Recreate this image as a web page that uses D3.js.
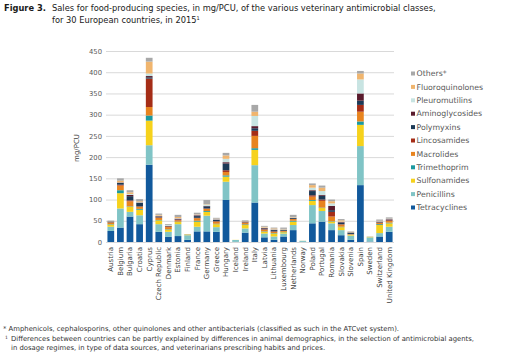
<!DOCTYPE html>
<html><head><meta charset="utf-8">
<script src="https://cdn.jsdelivr.net/npm/d3@7"></script>
<style>body{margin:0;background:#fff}svg{display:block}text{font-family:"DejaVu Sans",Verdana,sans-serif}</style>
</head><body>
<svg id="c" width="515" height="357"></svg>
<script>
const countries = ["Austria","Belgium","Bulgaria","Croatia","Cyprus","Czech Republic","Denmark","Estonia","Finland","France","Germany","Greece","Hungary","Iceland","Ireland","Italy","Latvia","Lithuania","Luxembourg","Netherlands","Norway","Poland","Portugal","Romania","Slovakia","Slovenia","Spain","Sweden","Switzerland","United Kingdom"];
const seriesNames = ["Tetracyclines","Penicillins","Sulfonamides","Trimethoprim","Macrolides","Lincosamides","Polymyxins","Aminoglycosides","Pleuromutilins","Fluoroquinolones","Others*"];
const colors = ["#11599c","#80c4c6","#f6d21c","#1b99a0","#e8841f","#a52d17","#1c3a57","#5a1b2d","#c8e4e2","#f0b56e","#a8a8a8"];
//                    Au  Be  Bu  Cr  Cy   Cz  De  Es  Fi   Fr  Ge  Gr  Hu  Ic   Ir  It  La  Li  Lu  Ne  No   Po  Pt  Ro  Sk  Sl   Sp  Sw   Sz  UK
const tetracyclines = [26, 34, 60, 42, 182, 24, 12, 14, 5,   25, 25, 24, 99, 0.2, 22, 93, 11, 5,  13, 28, 0.2, 44, 48, 28, 16, 5,  134, 1,   13, 24];
const penicillins   = [10, 45, 11, 21, 46,  18, 12, 28, 11,  11, 37, 11, 43, 4.5, 10, 88, 9,  8,  7,  12, 2.5, 43, 25, 16, 12, 10, 92,  10,  8,  12];
const sulfonamides  = [5,  36, 12, 13, 58,  9,  5,  5,  1.5, 12, 9,  7,  12, 0.3, 8,  36, 4,  7,  3,  8,  0.2, 10, 7,  4,  7,  2,  50,  1,   19, 8];
const trimethoprim  = [1,  7,  1,  2,  12,  1,  1,  1,  0.3, 2,  2,  1,  3,  0,   1.5,4,  1,  1,  1,  2,  0,   2,  1,  1,  1,  0.5,8,   0.2, 2,  1.5];
const macrolides    = [4,  11, 12, 5,  20,  5,  5,  3,  0.2, 6,  5,  5,  8,  0,   4,  29, 4,  3,  2,  4,  0,   8,  16, 11, 5,  1,  23,  0.2, 3,  4];
const lincosamides  = [0.5,2,  2,  1,  67,  1,  1.5,1,  0.1, 1,  1,  1,  4,  0,   0.5,12, 1,  1,  0.5,0.5,0,   3,  3,  11, 1,  0.5,16,  0.1, 1,  1.5];
const polymyxins    = [1.5,4,  10, 8,  3,   2,  0.5,1,  0,   4,  5,  3,  16, 0,   0.5,6,  2,  3,  2,  2,  0,   10, 9,  4,  4,  3,  10,  0,   1,  0.5];
const aminoglycosides=[0.5,1,  3,  1,  3,   1,  1,  2,  0,   2,  1,  1,  3,  0,   1.5,5,  1,  1,  0.5,0.5,0,   2,  2,  10, 1,  0.5,17,  0,   1,  2];
const pleuromutilins= [0.5,0.5,2,  1,  6,   1,  2,  1,  0,   1,  3,  1,  8,  0,   0.5,24, 1,  1,  1,  1,  0,   6,  9,  6,  1,  0.5,33,  0,   1,  1];
const fluoroquinolones=[0.5,4, 4,  2,  28,  2,  0.1,3,  0.2, 1,  1,  1,  8,  0,   0.5,10, 2,  2,  1,  1,  0,   6,  8,  5,  3,  1,  14,  0.1, 1,  0.5];
const others        = [1,  5.5,5,  5,  9,   3,  2,  5,  0.3, 4,  10, 2,  6,  0,   2,  16, 2,  2,  3,  5,  0.1, 4,  5,  4,  3,  1,  6,   0.1, 3,  3];
const seriesValues = [tetracyclines,penicillins,sulfonamides,trimethoprim,macrolides,lincosamides,polymyxins,aminoglycosides,pleuromutilins,fluoroquinolones,others];
const yTicks = [0,50,100,150,200,250,300,350,400,450];

const svg = d3.select("#c");
svg.append("rect").attr("width",515).attr("height",357).attr("fill","#fff");

// Title
const tfs = 8.3;
const t1 = svg.append("text").attr("x",4).attr("y",10.5).attr("font-size",tfs).attr("fill","#1a1a1a");
t1.append("tspan").attr("font-weight","bold").text("Figure 3.");
t1.append("tspan").attr("x",52).text("Sales for food-producing species, in mg/PCU, of the various veterinary antimicrobial classes,");
const t2 = svg.append("text").attr("x",52).attr("y",23).attr("font-size",tfs).attr("fill","#1a1a1a");
t2.append("tspan").text("for 30 European countries, in 2015");
t2.append("tspan").attr("font-size",5).attr("dy",-3).text("1");

const x = d3.scaleBand().domain(countries).range([106,394]).paddingInner(0.3).paddingOuter(0.15);
const y = d3.scaleLinear().domain([0,450]).range([242,51]);

// grid
svg.append("g").selectAll("line").data(yTicks).join("line")
  .attr("x1",106).attr("x2",394).attr("y1",d=>y(d)+0.5).attr("y2",d=>y(d)+0.5)
  .attr("stroke","#d9d9d9").attr("stroke-width",1);

const yAxis = svg.append("g").attr("transform","translate(106,0)")
  .call(d3.axisLeft(y).tickValues(yTicks).tickSize(0).tickPadding(4));
yAxis.select(".domain").remove();
yAxis.selectAll("text").attr("font-size",6.8).attr("fill","#595959").attr("font-family","DejaVu Sans");

svg.append("text").attr("transform","translate(79,148) rotate(-90)").attr("text-anchor","middle")
  .attr("font-size",7).attr("fill","#404040").text("mg/PCU");

// stacked data
const table = countries.map((c,i)=>{const o={country:c}; seriesNames.forEach((s,j)=>o[s]=seriesValues[j][i]); return o;});
const stack = d3.stack().keys(seriesNames)(table);
svg.append("g").selectAll("g").data(stack).join("g").attr("fill",(d,i)=>colors[i])
  .selectAll("rect").data(d=>d).join("rect")
  .attr("x",d=>x(d.data.country)).attr("width",x.bandwidth())
  .attr("y",d=>y(d[1])).attr("height",d=>Math.max(0,y(d[0])-y(d[1])));

// x labels
const xAxis = svg.append("g").attr("transform","translate(0,242)")
  .call(d3.axisBottom(x).tickSize(0).tickPadding(0));
xAxis.select(".domain").remove();
xAxis.selectAll("text").attr("font-size",7).attr("fill","#404040").attr("font-family","DejaVu Sans")
  .attr("text-anchor","end").attr("dy","0.35em")
  .attr("transform","translate(0,5) rotate(-90)").attr("x",0).attr("y",0);

// legend
const leg = svg.append("g");
const legOrder = seriesNames.map((s,i)=>i).reverse();
legOrder.forEach((si,k)=>{
  const yy = 73.5 + k*13.4;
  leg.append("rect").attr("x",411).attr("y",yy-2).attr("width",4).attr("height",4).attr("fill",colors[si]);
  leg.append("text").attr("x",416.5).attr("y",yy).attr("dy","0.35em").attr("font-size",7.8).attr("fill","#595959").text(seriesNames[si]);
});

// footnotes
const fs = 6.85;
svg.append("text").attr("x",3).attr("y",331).attr("font-size",fs).attr("fill","#333")
  .text("* Amphenicols, cephalosporins, other quinolones and other antibacterials (classified as such in the ATCvet system).");
svg.append("text").attr("x",5).attr("y",338.5).attr("font-size",4.5).attr("fill","#333").text("1");
svg.append("text").attr("x",11).attr("y",340.5).attr("font-size",fs).attr("fill","#333")
  .text("Differences between countries can be partly explained by differences in animal demographics, in the selection of antimicrobial agents,");
svg.append("text").attr("x",11).attr("y",349.5).attr("font-size",fs).attr("fill","#333")
  .text("in dosage regimes, in type of data sources, and veterinarians prescribing habits and prices.");
</script>
</body></html>
